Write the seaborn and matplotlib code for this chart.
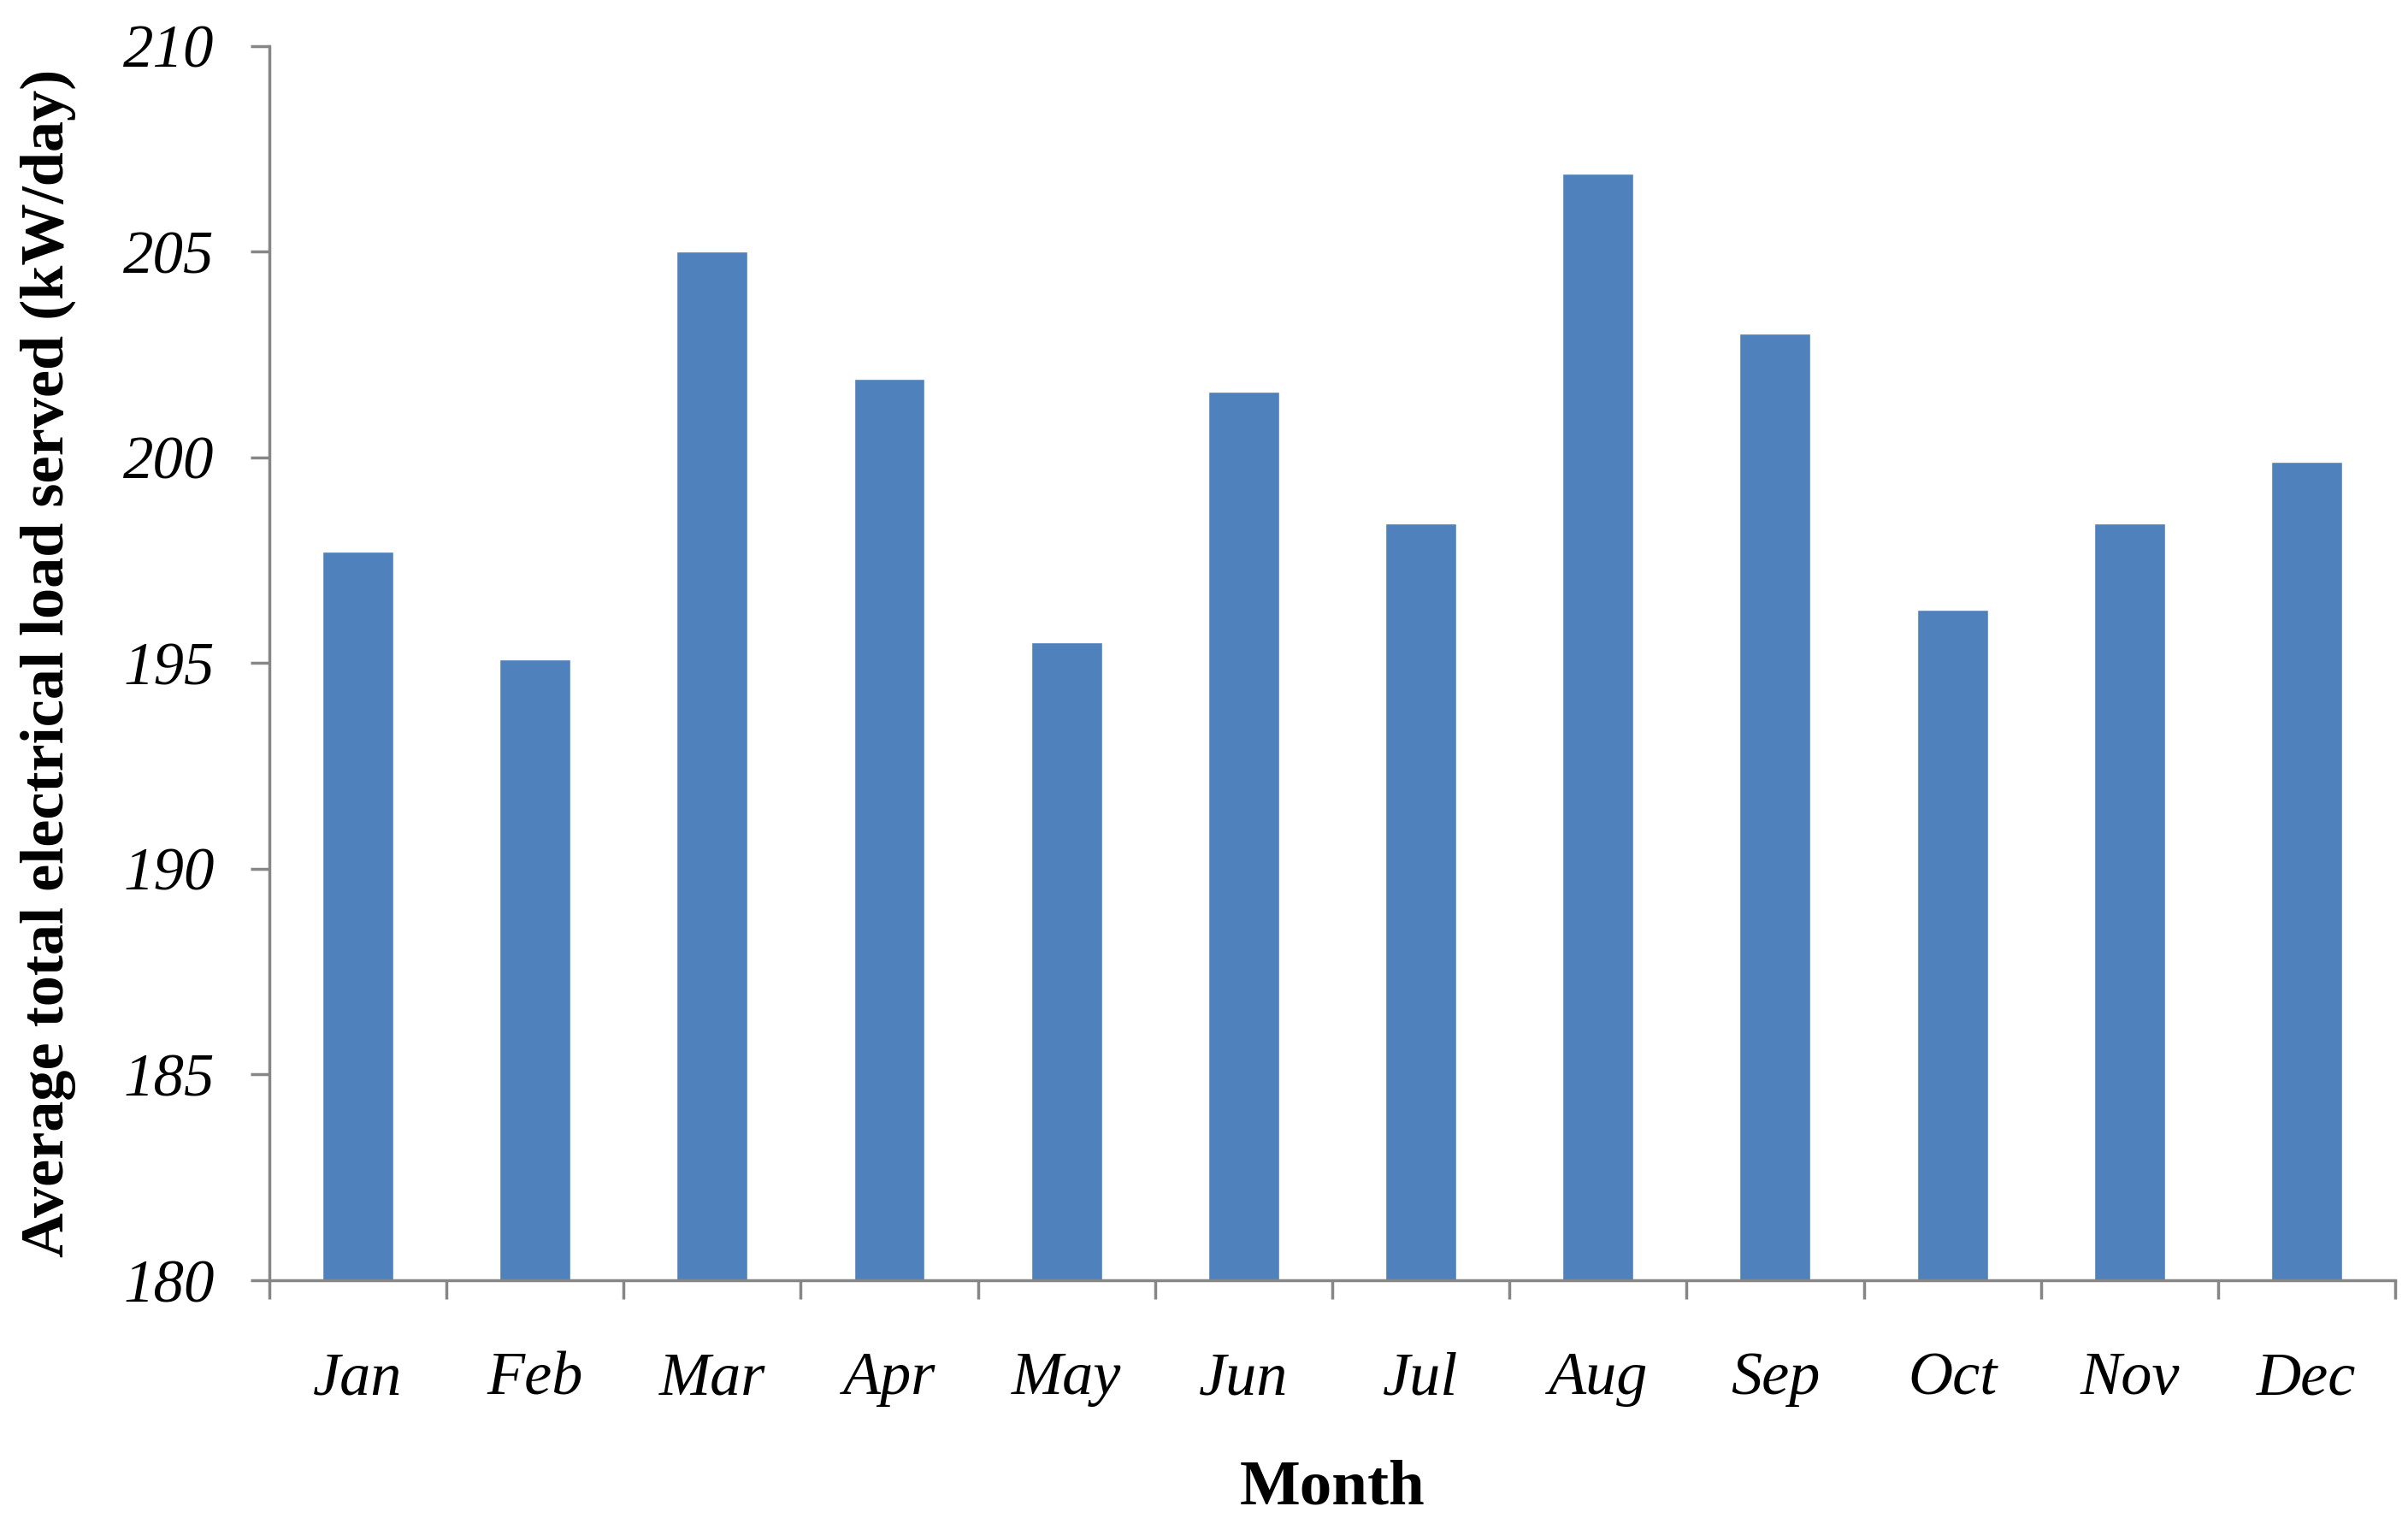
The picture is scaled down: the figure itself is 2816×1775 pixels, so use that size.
import numpy as np
import pandas as pd
import seaborn as sns
import matplotlib.pyplot as plt

# monthly average load served (kW/day)
months = ["Jan", "Feb", "Mar", "Apr", "May", "Jun",
          "Jul", "Aug", "Sep", "Oct", "Nov", "Dec"]
load = [197.7, 195.1, 205.0, 201.9, 195.5, 201.6,
        198.4, 206.9, 203.0, 196.3, 198.4, 199.9]
y_ticks = [180, 185, 190, 195, 200, 205, 210]

df = pd.DataFrame({"month": months, "load": load})

sns.set_style("ticks")
plt.rcParams['font.family'] = ['Liberation Serif', 'DejaVu Serif']
plt.rcParams['text.color'] = 'black'
plt.rcParams['axes.labelcolor'] = 'black'
plt.rcParams['xtick.color'] = 'black'
plt.rcParams['ytick.color'] = 'black'

axis_grey = "#868686"
bar_blue = "#4F81BD"

fig = plt.figure(figsize=(28.16, 17.75), dpi=100)
ax = fig.add_axes([0.1118, 0.1566, 0.9947 - 0.1118, 0.9698 - 0.1566])

sns.barplot(data=df, x="month", y="load", color=bar_blue, saturation=1,
            width=0.4, ax=ax)

ax.set_xlim(-0.5, len(months) - 0.5)
ax.set_ylim(y_ticks[0], y_ticks[-1])
ax.set_yticks(y_ticks)
ax.set_yticklabels([str(t) for t in y_ticks], fontsize=51, fontstyle='italic')
ax.set_xticks(range(len(months)))
ax.set_xticklabels(months, fontsize=52, fontstyle='italic')

# category boundaries as minor ticks, like the spreadsheet axis
ax.set_xticks(np.arange(-0.5, len(months), 1), minor=True)
ax.tick_params(axis='x', which='major', length=0, pad=60, labelcolor='black')
ax.tick_params(axis='x', which='minor', bottom=True, length=16, width=2.5,
               color=axis_grey, direction='out')
ax.tick_params(axis='y', which='major', left=True, length=16, width=2.5,
               color=axis_grey, labelcolor='black', direction='out', pad=30)

for side in ["top", "right"]:
    ax.spines[side].set_visible(False)
for side in ["left", "bottom"]:
    ax.spines[side].set_color(axis_grey)
    ax.spines[side].set_linewidth(2.5)

ax.set_xlabel("Month", fontsize=54, fontweight='bold', labelpad=44, color='black')
ax.set_ylabel("Average total electrical load served (kW/day)", fontsize=52,
              fontweight='bold', labelpad=40, color='black')

fig.savefig("out.png", dpi=100)
